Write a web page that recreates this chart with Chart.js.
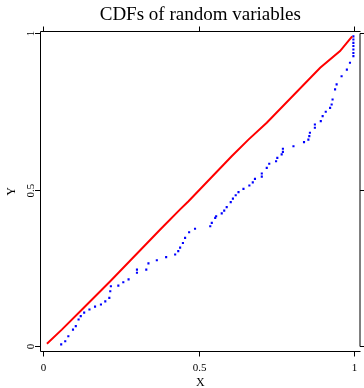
<!DOCTYPE html>
<html>
<head>
<meta charset="utf-8">
<title>CDFs of random variables</title>
<script src="https://cdn.jsdelivr.net/npm/chart.js@4/dist/chart.umd.min.js"></script>
<style>
    body { margin: 0; background: #fff; }
    #cdfChart { display: block; }
</style>
</head>
<body>
<canvas id="cdfChart" width="364" height="388"></canvas>
<script>
// 标题与坐标轴文字
const chartTitle = 'CDFs of random variables';
const xTitle = 'X';
const yTitle = 'Y';
const xTicks = [0, 0.5, 1];
const yTicks = [0, 0.5, 1];
const xTickLabels = ['0', '0.5', '1'];
const yTickLabels = ['0', '0.5', '1'];

// 红色实线
const redX = [0.011, 0.059, 0.129, 0.215, 0.376, 0.440, 0.467, 0.606, 0.660, 0.719, 0.891, 0.955, 0.994];
const redY = [0.012, 0.057, 0.126, 0.211, 0.376, 0.440, 0.466, 0.609, 0.662, 0.716, 0.891, 0.944, 0.991];

// 蓝色点线 (从图上读取的每个点)
const blueX = [0.057, 0.070, 0.080, 0.095, 0.104, 0.113, 0.120, 0.131, 0.148, 0.166,
               0.185, 0.199, 0.212, 0.215, 0.217, 0.241, 0.257, 0.274, 0.301, 0.301,
               0.331, 0.338, 0.365, 0.395, 0.424, 0.434, 0.440, 0.449, 0.456, 0.469,
               0.488, 0.537, 0.542, 0.553, 0.556, 0.574, 0.582, 0.590, 0.603, 0.610,
               0.619, 0.628, 0.644, 0.663, 0.674, 0.681, 0.703, 0.703, 0.719, 0.727,
               0.749, 0.753, 0.767, 0.771, 0.771, 0.805, 0.839, 0.853, 0.856, 0.858,
               0.874, 0.874, 0.893, 0.899, 0.909, 0.923, 0.928, 0.931, 0.939, 0.944,
               0.960, 0.977, 0.987, 0.998, 0.998, 0.998, 0.998, 0.998, 0.998, 0.998];
const blueY = [0.010, 0.020, 0.036, 0.057, 0.068, 0.089, 0.100, 0.111, 0.121, 0.130,
               0.137, 0.147, 0.158, 0.179, 0.195, 0.197, 0.208, 0.217, 0.238, 0.248,
               0.248, 0.268, 0.278, 0.288, 0.296, 0.307, 0.318, 0.333, 0.349, 0.367,
               0.378, 0.386, 0.397, 0.413, 0.418, 0.427, 0.436, 0.447, 0.463, 0.474,
               0.485, 0.495, 0.505, 0.516, 0.526, 0.537, 0.544, 0.554, 0.572, 0.585,
               0.593, 0.604, 0.615, 0.623, 0.633, 0.641, 0.654, 0.662, 0.673, 0.684,
               0.700, 0.710, 0.721, 0.737, 0.751, 0.763, 0.774, 0.790, 0.822, 0.838,
               0.864, 0.885, 0.907, 0.928, 0.938, 0.949, 0.960, 0.970, 0.981, 0.991];

function toPoints(xs, ys) {
    return xs.map((x, i) => ({ x: x, y: ys[i] }));
}

const serifFont = '"Liberation Serif", "DejaVu Serif", serif';

// 画边框、刻度和文字
const framePlugin = {
    id: 'frame',
    afterDraw(chart) {
        const ctx = chart.ctx;
        const xs = chart.scales.x;
        const ys = chart.scales.y;
        const a = chart.chartArea;
        const px = v => Math.round(xs.getPixelForValue(v)) + 0.5;
        const py = v => Math.round(ys.getPixelForValue(v)) - 0.5;

        ctx.save();
        ctx.strokeStyle = '#000';
        ctx.lineWidth = 1;
        ctx.beginPath();
        // 左、下、上边
        ctx.moveTo(a.left, a.top);
        ctx.lineTo(a.left, a.bottom);
        ctx.lineTo(a.right + 0.5, a.bottom);
        ctx.moveTo(a.left, a.top);
        ctx.lineTo(a.right + 0.5, a.top);
        // 右边只到刻度范围
        ctx.moveTo(a.right, py(yTicks[yTicks.length - 1]));
        ctx.lineTo(a.right, py(yTicks[0]));
        // 刻度线
        xTicks.forEach(v => {
            ctx.moveTo(px(v), a.bottom);
            ctx.lineTo(px(v), a.bottom + 5);
            ctx.moveTo(px(v), a.top);
            ctx.lineTo(px(v), a.top - 5);
        });
        yTicks.forEach(v => {
            ctx.moveTo(a.left, py(v));
            ctx.lineTo(a.left - 5.5, py(v));
            ctx.moveTo(a.right, py(v));
            ctx.lineTo(a.right + 5, py(v));
        });
        ctx.stroke();

        ctx.fillStyle = '#000';
        // 标题
        ctx.font = '19px ' + serifFont;
        ctx.textAlign = 'center';
        ctx.textBaseline = 'alphabetic';
        ctx.fillText(chartTitle, (a.left + a.right) / 2, 19.5);

        // X 轴刻度文字
        ctx.font = '11px ' + serifFont;
        ctx.textBaseline = 'middle';
        xTicks.forEach((v, i) => {
            ctx.fillText(xTickLabels[i], px(v), 368);
        });
        ctx.font = '12px ' + serifFont;
        ctx.fillText(xTitle, (a.left + a.right) / 2, 383);

        // Y 轴刻度文字 (竖排)
        yTicks.forEach((v, i) => {
            ctx.save();
            ctx.translate(31.5, py(v));
            ctx.rotate(-Math.PI / 2);
            ctx.font = '11px ' + serifFont;
            ctx.fillText(yTickLabels[i], 0, 0);
            ctx.restore();
        });
        ctx.save();
        ctx.translate(12, (a.top + a.bottom) / 2);
        ctx.rotate(-Math.PI / 2);
        ctx.font = '12px ' + serifFont;
        ctx.fillText(yTitle, 0, 0);
        ctx.restore();

        ctx.restore();
    }
};

new Chart(document.getElementById('cdfChart'), {
    type: 'scatter',
    data: {
        datasets: [{
            label: 'red',
            data: toPoints(redX, redY),
            showLine: true,
            borderColor: '#ff0000',
            borderWidth: 2,
            pointRadius: 0,
            tension: 0
        }, {
            label: 'blue',
            data: toPoints(blueX, blueY),
            showLine: false,
            pointStyle: 'rect',
            pointRadius: 1.5,
            pointBorderWidth: 0,
            backgroundColor: '#0000ff'
        }]
    },
    options: {
        responsive: false,
        animation: false,
        layout: {
            padding: { left: 40.5, right: 3.5, top: 31.5, bottom: 36.5 }
        },
        plugins: {
            legend: { display: false },
            tooltip: { enabled: false }
        },
        scales: {
            x: { type: 'linear', display: false, min: -0.009646, max: 1.01929 },
            y: { type: 'linear', display: false, min: -0.012739, max: 1.00637 }
        }
    },
    plugins: [framePlugin]
});
</script>
</body>
</html>
